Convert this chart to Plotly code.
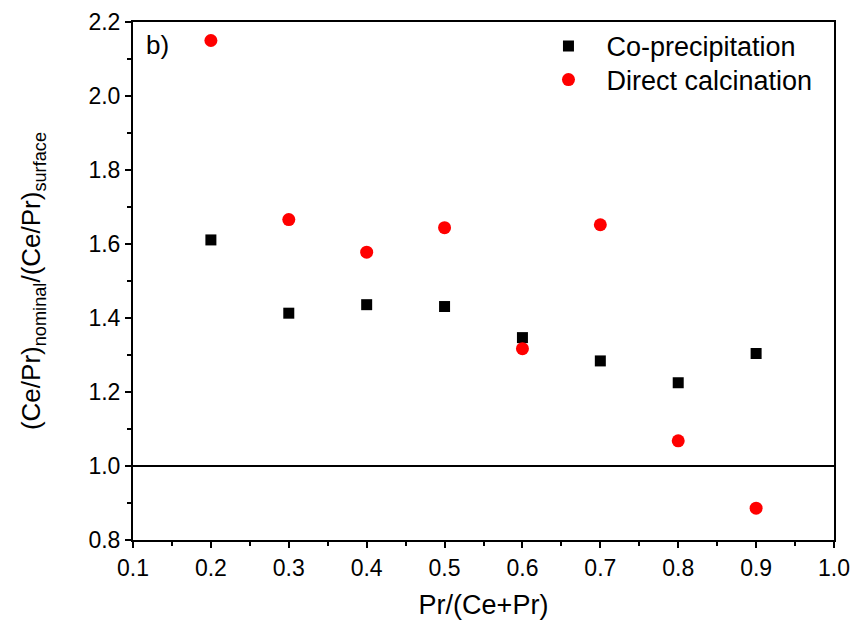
import plotly.graph_objects as go

x_vals = [0.2, 0.3, 0.4, 0.5, 0.6, 0.7, 0.8, 0.9]
coprecip = [1.611, 1.413, 1.436, 1.431, 1.347, 1.284, 1.225, 1.304]
direct_calc = [2.150, 1.666, 1.578, 1.644, 1.317, 1.652, 1.068, 0.886]
x_ticks = [0.1, 0.2, 0.3, 0.4, 0.5, 0.6, 0.7, 0.8, 0.9, 1.0]
y_ticks = [0.8, 1.0, 1.2, 1.4, 1.6, 1.8, 2.0, 2.2]
ref_line = 1.0

FONT = "Liberation Sans, Arial, sans-serif"

fig = go.Figure()
fig.add_trace(go.Scatter(x=x_vals, y=coprecip, mode="markers", name="Co-precipitation",
                         marker=dict(symbol="square", size=11, color="black"), legend="legend"))
fig.add_trace(go.Scatter(x=x_vals, y=direct_calc, mode="markers", name="Direct calcination",
                         marker=dict(symbol="circle", size=13, color="#ff0000"), legend="legend2"))

fig.add_shape(type="line", xref="paper", yref="y", x0=0, x1=1, y0=ref_line, y1=ref_line,
              line=dict(color="black", width=2))

fig.add_annotation(text="b)", xref="paper", yref="paper", x=0.015, y=0.955,
                   xanchor="left", yanchor="middle", showarrow=False,
                   font=dict(family=FONT, size=26, color="black"))

leg_common = dict(x=0.567, xanchor="left", yanchor="middle",
                  bgcolor="rgba(0,0,0,0)", font=dict(family=FONT, size=27),
                  itemsizing="trace", itemwidth=66)

fig.update_layout(
    width=854, height=626,
    margin=dict(l=133, r=20, t=22, b=86, autoexpand=False),
    paper_bgcolor="white", plot_bgcolor="white",
    font=dict(family=FONT, color="black"),
    showlegend=True,
    legend=dict(y=0.953, **leg_common),
    legend2=dict(y=0.888, **leg_common),
    xaxis=dict(range=[0.1, 1.0], tickvals=x_ticks, ticktext=[f"{v:.1f}" for v in x_ticks],
               showgrid=False, zeroline=False, showline=True, linecolor="black", linewidth=2,
               mirror=True, ticks="outside", ticklen=6, tickwidth=2, tickcolor="black",
               automargin=False,
               tickfont=dict(size=23), minor=dict(ticks="outside", ticklen=4, tickwidth=2,
                                                    tickcolor="black", dtick=0.05),
               title=dict(text="Pr/(Ce+Pr)", font=dict(size=27), standoff=16)),
    yaxis=dict(range=[0.8, 2.2], tickvals=y_ticks, ticktext=[f"{v:.1f}" for v in y_ticks],
               showgrid=False, zeroline=False, showline=True, linecolor="black", linewidth=2,
               mirror=True, ticks="outside", ticklen=6, tickwidth=2, tickcolor="black",
               automargin=False,
               tickfont=dict(size=23), minor=dict(ticks="outside", ticklen=4, tickwidth=2,
                                                    tickcolor="black", dtick=0.1),
               title=dict(text="(Ce/Pr)<sub>nominal</sub>/(Ce/Pr)<sub>surface</sub>",
                          font=dict(size=26), standoff=40)),
)

fig.write_html("out.html")
